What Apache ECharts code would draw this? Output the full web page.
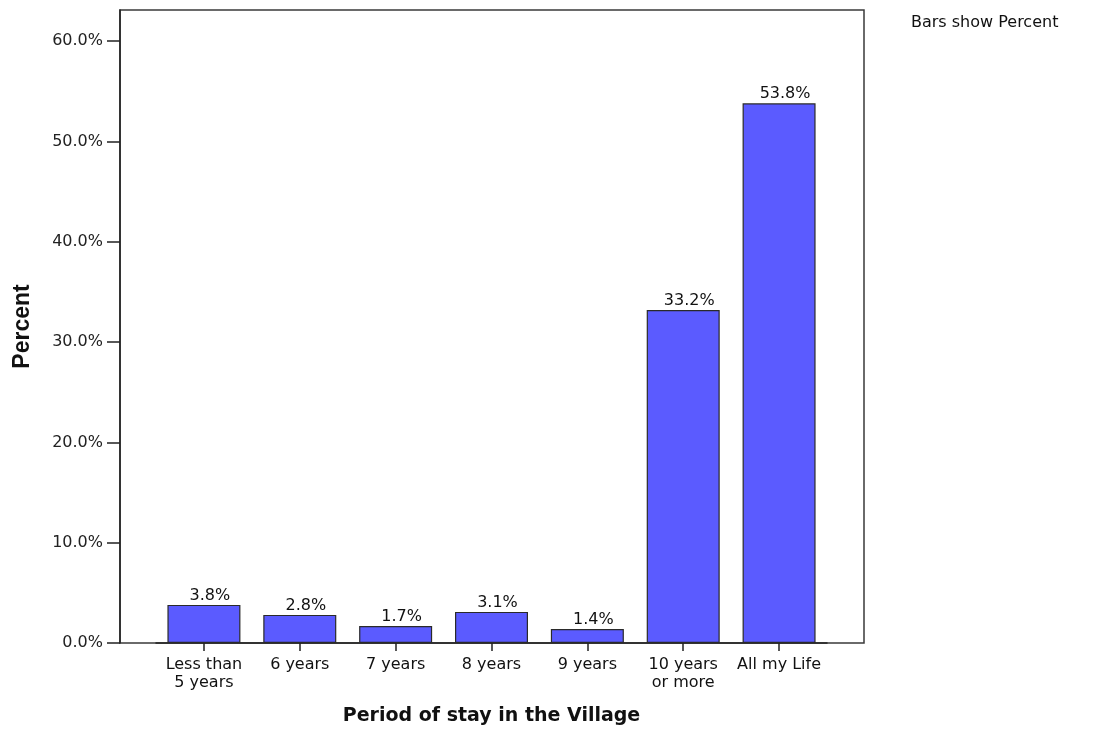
<!DOCTYPE html>
<html>
<head>
<meta charset="utf-8">
<script src="https://cdn.jsdelivr.net/npm/echarts@6/dist/echarts.min.js"></script>
<style>
  html, body { margin: 0; padding: 0; background: #fff; }
  #chart { width: 1097px; height: 731px; }
</style>
</head>
<body>
<div id="chart"></div>
<script>
// Period of stay in the village, share of respondents (%)
const categories = ['Less than\n5 years', '6 years', '7 years', '8 years', '9 years', '10 years\nor more', 'All my Life'];
const percents = [3.8, 2.8, 1.7, 3.1, 1.4, 33.2, 53.8];
const yTicks = [0, 10, 20, 30, 40, 50, 60];
const yMax = 63.1;

const FONT = 'DejaVu Sans';
const chart = echarts.init(document.getElementById('chart'));

chart.setOption({
  backgroundColor: '#ffffff',
  animation: false,
  grid: [
    // outer frame carrying the percentage axis
    { left: 120, top: 10, width: 744, height: 633, containLabel: false, outerBoundsMode: 'none',
      show: true, borderColor: '#3a3a3a', borderWidth: 1.5, backgroundColor: 'transparent' },
    // inner band holding the bars
    { left: 156, top: 10, width: 671, height: 633, containLabel: false, outerBoundsMode: 'none' }
  ],
  xAxis: [
    { gridIndex: 0, type: 'value', show: false, min: 0, max: 1 },
    {
      gridIndex: 1, type: 'category', data: categories, boundaryGap: true,
      axisLine: { show: true, lineStyle: { color: '#222', width: 1.5 } },
      axisTick: { show: true, alignWithLabel: true, length: 8, lineStyle: { color: '#222', width: 1.5 } },
      axisLabel: { color: '#111', fontFamily: FONT, fontSize: 16, lineHeight: 18, margin: 13, interval: 0 },
      name: 'Period of stay in the Village', nameLocation: 'middle', nameGap: 64,
      nameTextStyle: { color: '#111', fontFamily: FONT, fontSize: 19, fontWeight: 'bold' }
    }
  ],
  yAxis: [
    {
      gridIndex: 0, type: 'value', min: 0, max: yMax,
      axisLine: { show: true, lineStyle: { color: '#222', width: 1.5 } },
      axisTick: { show: true, inside: false, length: 13, customValues: yTicks, lineStyle: { color: '#222', width: 1.5 } },
      axisLabel: {
        customValues: yTicks, margin: 17, color: '#222', fontFamily: FONT, fontSize: 16,
        formatter: v => v.toFixed(1) + '%'
      },
      splitLine: { show: false },
      name: 'Percent', nameLocation: 'middle', nameGap: 86, nameRotate: 90,
      nameTextStyle: { color: '#111', fontFamily: 'Liberation Sans', fontSize: 23, fontWeight: 'bold' }
    },
    { gridIndex: 1, type: 'value', min: 0, max: yMax, show: false, splitLine: { show: false } }
  ],
  graphic: [
    { type: 'text', left: 911, top: 15, style: { text: 'Bars show Percent', fill: '#111', font: '16px "DejaVu Sans"' } }
  ],
  series: [
    {
      type: 'bar', xAxisIndex: 1, yAxisIndex: 1,
      data: percents, barWidth: 73,
      itemStyle: { color: '#5b5bff', borderColor: '#2a2a2a', borderWidth: 1.2 },
      label: {
        show: true, position: 'top', distance: 1, offset: [6, 0],
        color: '#111', fontFamily: FONT, fontSize: 16,
        formatter: p => p.value.toFixed(1) + '%'
      }
    }
  ]
});
</script>
</body>
</html>
